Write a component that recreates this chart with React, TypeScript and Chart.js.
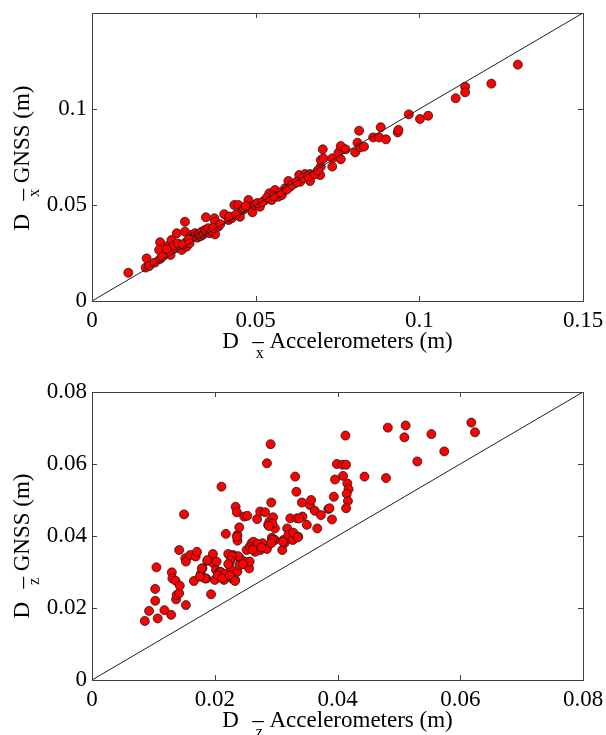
import React, { useEffect, useRef } from "react";
import { Chart, registerables } from "chart.js";

Chart.register(...registerables);

const FONT = '"Liberation Serif", "DejaVu Serif", "Times New Roman", serif';

// ---- Data: top panel (horizontal displacement, m) ----
const topAccel = [
  0.0111, 0.0167, 0.0164, 0.0175, 0.0192, 0.0208, 0.0208, 0.0205, 0.0226, 0.0233,
  0.0240, 0.0243, 0.0254, 0.0259, 0.0269, 0.0274, 0.0284, 0.0284, 0.0289, 0.0289,
  0.0300, 0.0305, 0.0310, 0.0315, 0.0318, 0.0322, 0.0325, 0.0328, 0.0332, 0.0335,
  0.0338, 0.0342, 0.0345, 0.0348, 0.0350, 0.0355, 0.0360, 0.0374, 0.0376, 0.0376,
  0.0386, 0.0404, 0.0417, 0.0427, 0.0435, 0.0447, 0.0452, 0.0460, 0.0478, 0.0483,
  0.0490, 0.0498, 0.0513, 0.0529, 0.0542, 0.0549, 0.0559, 0.0569, 0.0580, 0.0590,
  0.0600, 0.0605, 0.0620, 0.0633, 0.0636, 0.0651, 0.0666, 0.0666, 0.0697, 0.0699,
  0.0699, 0.0705, 0.0707, 0.0734, 0.0734, 0.0753, 0.0760, 0.0760, 0.0775, 0.0804,
  0.0811, 0.0816, 0.0819, 0.0831, 0.0859, 0.0877, 0.0882, 0.0898, 0.0934, 0.0936,
  0.0968, 0.1002, 0.1027, 0.1111, 0.1140, 0.1140, 0.1220, 0.1301, 0.0250, 0.0262,
  0.0278, 0.0295, 0.0298, 0.0215, 0.0228, 0.0365, 0.0370, 0.0392, 0.0420, 0.0440,
  0.0465, 0.0470, 0.0505, 0.0520, 0.0535, 0.0555, 0.0575, 0.0595, 0.0612, 0.0625,
  0.0645, 0.0660, 0.0680, 0.0690,
];
const topGnss = [
  0.0147, 0.0222, 0.0174, 0.0182, 0.0200, 0.0219, 0.0306, 0.0266, 0.0245, 0.0288,
  0.0240, 0.0318, 0.0274, 0.0353, 0.0283, 0.0266, 0.0413, 0.0361, 0.0283, 0.0309,
  0.0330, 0.0345, 0.0335, 0.0353, 0.0340, 0.0330, 0.0344, 0.0350, 0.0338, 0.0361,
  0.0345, 0.0352, 0.0370, 0.0436, 0.0360, 0.0379, 0.0353, 0.0431, 0.0347, 0.0413,
  0.0387, 0.0452, 0.0422, 0.0431, 0.0500, 0.0500, 0.0439, 0.0474, 0.0526, 0.0491,
  0.0462, 0.0500, 0.0491, 0.0526, 0.0561, 0.0526, 0.0578, 0.0543, 0.0552, 0.0587,
  0.0625, 0.0595, 0.0613, 0.0656, 0.0621, 0.0661, 0.0625, 0.0661, 0.0656, 0.0700,
  0.0734, 0.0790, 0.0743, 0.0700, 0.0743, 0.0773, 0.0738, 0.0807, 0.0790, 0.0774,
  0.0824, 0.0887, 0.0800, 0.0804, 0.0852, 0.0852, 0.0905, 0.0842, 0.0878, 0.0891,
  0.0972, 0.0948, 0.0965, 0.1056, 0.1116, 0.1087, 0.1132, 0.1231, 0.0290, 0.0300,
  0.0295, 0.0320, 0.0300, 0.0230, 0.0270, 0.0365, 0.0380, 0.0400, 0.0440, 0.0450,
  0.0480, 0.0495, 0.0510, 0.0515, 0.0540, 0.0545, 0.0565, 0.0580, 0.0605, 0.0620,
  0.0640, 0.0650, 0.0660, 0.0680,
];

// ---- Data: bottom panel (vertical displacement, m) ----
const bottomAccel = [
  0.0086, 0.0093, 0.0107, 0.0103, 0.0103, 0.0105, 0.0118, 0.0129, 0.0130, 0.0131,
  0.0136, 0.0137, 0.0138, 0.0142, 0.0143, 0.0142, 0.0150, 0.0153, 0.0152, 0.0153,
  0.0160, 0.0166, 0.0169, 0.0171, 0.0177, 0.0180, 0.0186, 0.0188, 0.0194, 0.0197,
  0.0198, 0.0200, 0.0202, 0.0203, 0.0206, 0.0208, 0.0211, 0.0214, 0.0215, 0.0218,
  0.0219, 0.0222, 0.0223, 0.0226, 0.0228, 0.0230, 0.0233, 0.0234, 0.0236, 0.0237,
  0.0237, 0.0237, 0.0240, 0.0241, 0.0240, 0.0247, 0.0248, 0.0249, 0.0253, 0.0252,
  0.0256, 0.0257, 0.0257, 0.0260, 0.0263, 0.0266, 0.0268, 0.0269, 0.0274, 0.0274,
  0.0278, 0.0282, 0.0285, 0.0285, 0.0287, 0.0289, 0.0291, 0.0292, 0.0293, 0.0295,
  0.0298, 0.0298, 0.0310, 0.0312, 0.0314, 0.0318, 0.0320, 0.0323, 0.0327, 0.0331,
  0.0328, 0.0333, 0.0334, 0.0336, 0.0342, 0.0343, 0.0350, 0.0355, 0.0357, 0.0363,
  0.0367, 0.0373, 0.0385, 0.0391, 0.0394, 0.0396, 0.0399, 0.0408, 0.0414, 0.0409,
  0.0413, 0.0416, 0.0418, 0.0415, 0.0417, 0.0414, 0.0444, 0.0479, 0.0482, 0.0509,
  0.0511, 0.0530, 0.0553, 0.0574, 0.0618, 0.0624, 0.0387, 0.0338, 0.0335, 0.0311,
  0.0294, 0.0288, 0.0294, 0.0292, 0.0265, 0.0270, 0.0276, 0.0262, 0.0246, 0.0238,
  0.0228, 0.0226, 0.0222, 0.0210, 0.0216, 0.0205, 0.0212, 0.0225, 0.0188, 0.0179,
  0.0184, 0.0176, 0.0233, 0.0236,
];
const bottomGnss = [
  0.0164, 0.0192, 0.0171, 0.0220, 0.0253, 0.0313, 0.0194, 0.0181, 0.0299, 0.0282,
  0.0276, 0.0224, 0.0236, 0.0241, 0.0262, 0.0361, 0.0460, 0.0208, 0.0338, 0.0329,
  0.0347, 0.0275, 0.0343, 0.0356, 0.0294, 0.0310, 0.0282, 0.0331, 0.0238, 0.0350,
  0.0324, 0.0278, 0.0306, 0.0329, 0.0296, 0.0300, 0.0537, 0.0287, 0.0278, 0.0406,
  0.0292, 0.0350, 0.0321, 0.0306, 0.0282, 0.0347, 0.0278, 0.0481, 0.0466, 0.0403,
  0.0387, 0.0301, 0.0424, 0.0338, 0.0319, 0.0324, 0.0454, 0.0329, 0.0456, 0.0361,
  0.0310, 0.0329, 0.0370, 0.0380, 0.0384, 0.0356, 0.0375, 0.0447, 0.0468, 0.0361,
  0.0380, 0.0466, 0.0602, 0.0364, 0.0431, 0.0440, 0.0655, 0.0493, 0.0395, 0.0452,
  0.0421, 0.0389, 0.0361, 0.0389, 0.0381, 0.0421, 0.0403, 0.0449, 0.0389, 0.0565,
  0.0409, 0.0523, 0.0449, 0.0398, 0.0493, 0.0454, 0.0431, 0.0486, 0.0500, 0.0470,
  0.0421, 0.0458, 0.0475, 0.0446, 0.0509, 0.0557, 0.0600, 0.0598, 0.0598, 0.0567,
  0.0679, 0.0546, 0.0530, 0.0517, 0.0497, 0.0477, 0.0565, 0.0561, 0.0701, 0.0674,
  0.0707, 0.0607, 0.0683, 0.0635, 0.0715, 0.0688, 0.0477, 0.0449, 0.0396, 0.0384,
  0.0435, 0.0428, 0.0389, 0.0380, 0.0372, 0.0378, 0.0368, 0.0362, 0.0322, 0.0344,
  0.0344, 0.0333, 0.0322, 0.0300, 0.0295, 0.0290, 0.0283, 0.0290, 0.0333, 0.0310,
  0.0282, 0.0287, 0.0275, 0.0398,
];

// ---- Axes ----
const topXTicks = [0, 0.05, 0.1, 0.15];
const topYTicks = [0, 0.05, 0.1];
const topRange = [0, 0.15];
const bottomTicks = [0, 0.02, 0.04, 0.06, 0.08];
const bottomRange = [0, 0.08];

const topLabels = { xSub: "x", xRest: "– Accelerometers (m)", ySub: "x", yRest: "– GNSS (m)" };
const bottomLabels = { xSub: "z", xRest: "– Accelerometers (m)", ySub: "z", yRest: "– GNSS (m)" };

const fmt = (v: number) => String(parseFloat(Number(v).toFixed(4)));

function drawLabel(ctx: CanvasRenderingContext2D, sub: string, rest: string) {
  ctx.font = `23px ${FONT}`;
  ctx.fillText("D", 0, 0);
  const dw = ctx.measureText("D").width;
  ctx.font = `16px ${FONT}`;
  ctx.fillText(sub, dw + 17, 10);
  ctx.font = `23px ${FONT}`;
  ctx.fillText(rest, dw + 13.4, 0);
}

function labelWidth(ctx: CanvasRenderingContext2D, rest: string) {
  ctx.font = `23px ${FONT}`;
  return ctx.measureText("D").width + 13.4 + ctx.measureText(rest).width;
}

const framePlugin = {
  id: "frame",
  afterDraw(chart: any, _args: any, opts: any) {
    const { ctx, chartArea: a, scales } = chart;
    ctx.save();
    ctx.strokeStyle = "#404040";
    ctx.lineWidth = 1;
    ctx.strokeRect(a.left + 0.5, a.top + 0.5, a.right - a.left, a.bottom - a.top);
    const tl = 5;
    ctx.beginPath();
    for (const v of opts.xTicks) {
      const px = Math.round(scales.x.getPixelForValue(v)) + 0.5;
      ctx.moveTo(px, a.bottom);
      ctx.lineTo(px, a.bottom - tl);
      ctx.moveTo(px, a.top);
      ctx.lineTo(px, a.top + tl);
    }
    for (const v of opts.yTicks) {
      const py = Math.round(scales.y.getPixelForValue(v)) + 0.5;
      ctx.moveTo(a.left, py);
      ctx.lineTo(a.left + tl, py);
      ctx.moveTo(a.right, py);
      ctx.lineTo(a.right - tl, py);
    }
    ctx.stroke();

    ctx.fillStyle = "#000";
    ctx.textBaseline = "alphabetic";
    ctx.textAlign = "left";
    const L = opts.labels;
    const wx = labelWidth(ctx, L.xRest);
    ctx.save();
    ctx.translate((a.left + a.right) / 2 - wx / 2, a.bottom + 47);
    drawLabel(ctx, L.xSub, L.xRest);
    ctx.restore();
    const wy = labelWidth(ctx, L.yRest);
    ctx.save();
    ctx.translate(29, (a.top + a.bottom) / 2 + wy / 2 + opts.yShift);
    ctx.rotate(-Math.PI / 2);
    drawLabel(ctx, L.ySub, L.yRest);
    ctx.restore();
    ctx.restore();
  },
};

interface PanelProps {
  xs: number[];
  ys: number[];
  range: number[];
  xTicks: number[];
  yTicks: number[];
  labels: typeof topLabels;
  height: number;
  padTop: number;
  xAxisHeight: number;
  yShift: number;
}

function Panel(p: PanelProps) {
  const ref = useRef<HTMLCanvasElement | null>(null);
  useEffect(() => {
    if (!ref.current) return;
    const points = p.xs.map((x, i) => ({ x, y: p.ys[i] }));
    const tickFont = { family: FONT, size: 23 };
    const noPad = (s: any) => {
      s.paddingTop = 0;
      s.paddingBottom = 0;
      s.paddingLeft = 0;
      s.paddingRight = 0;
    };
    const chart = new Chart(ref.current, {
      type: "scatter",
      data: {
        datasets: [
          {
            type: "line",
            data: [
              { x: p.range[0], y: p.range[0] },
              { x: p.range[1], y: p.range[1] },
            ],
            borderColor: "#202020",
            borderWidth: 1,
            pointRadius: 0,
            fill: false,
            order: 0,
          } as any,
          {
            data: points,
            backgroundColor: "#ff0000",
            borderColor: "#1a1a1a",
            borderWidth: 0.8,
            pointRadius: 4.5,
            order: 1,
          },
        ],
      },
      options: {
        animation: false,
        responsive: false,
        devicePixelRatio: 1,
        events: [],
        layout: { padding: { top: p.padTop, right: 23, left: 0, bottom: 0 } },
        plugins: {
          legend: { display: false },
          tooltip: { enabled: false },
          frame: { xTicks: p.xTicks, yTicks: p.yTicks, labels: p.labels, yShift: p.yShift },
        } as any,
        scales: {
          x: {
            type: "linear",
            min: p.range[0],
            max: p.range[1],
            grid: { display: false, drawTicks: false },
            border: { display: false },
            afterBuildTicks: (s: any) => {
              s.ticks = p.xTicks.map((v) => ({ value: v }));
            },
            afterFit: (s: any) => {
              s.height = p.xAxisHeight;
              noPad(s);
            },
            ticks: {
              font: tickFont,
              color: "#000",
              padding: 6,
              maxRotation: 0,
              autoSkip: false,
              callback: (v: any) => fmt(v),
            },
          },
          y: {
            type: "linear",
            min: p.range[0],
            max: p.range[1],
            grid: { display: false, drawTicks: false },
            border: { display: false },
            afterBuildTicks: (s: any) => {
              s.ticks = p.yTicks.map((v) => ({ value: v }));
            },
            afterFit: (s: any) => {
              s.width = 92;
              noPad(s);
            },
            ticks: {
              font: tickFont,
              color: "#000",
              padding: 5,
              autoSkip: false,
              callback: (v: any) => fmt(v),
            },
          },
        },
      },
      plugins: [framePlugin],
    } as any);
    return () => chart.destroy();
  }, []);
  return (
    <canvas
      ref={ref}
      width={606}
      height={p.height}
      style={{ display: "block", width: 606, height: p.height }}
    />
  );
}

export default function App() {
  return (
    <div
      style={{
        position: "absolute",
        left: 0,
        top: 0,
        width: 606,
        height: 735,
        background: "#fff",
        overflow: "hidden",
      }}
    >
      <Panel
        xs={topAccel}
        ys={topGnss}
        range={topRange}
        xTicks={topXTicks}
        yTicks={topYTicks}
        labels={topLabels}
        height={370}
        padTop={13}
        xAxisHeight={69}
        yShift={1}
      />
      <Panel
        xs={bottomAccel}
        ys={bottomGnss}
        range={bottomRange}
        xTicks={bottomTicks}
        yTicks={bottomTicks}
        labels={bottomLabels}
        height={365}
        padTop={22}
        xAxisHeight={55}
        yShift={10}
      />
    </div>
  );
}
